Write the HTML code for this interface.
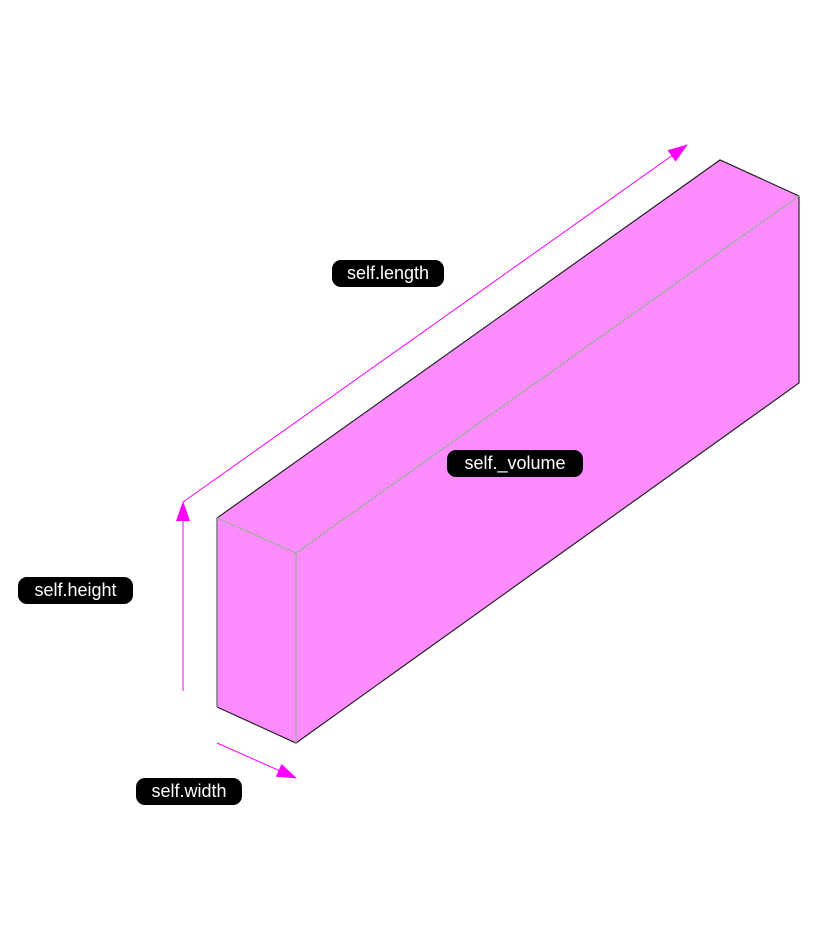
<!DOCTYPE html>
<html><head><style>
body{margin:0;background:#fff;width:820px;height:946px;overflow:hidden}
.l{position:absolute;background:#000;color:#fff;font:18px "Liberation Sans",sans-serif;border-radius:9px;height:27px;line-height:27px;text-align:center}
</style></head><body>
<svg width="820" height="946" style="position:absolute;left:0;top:0">
<defs><marker id="a" markerWidth="10" markerHeight="8" refX="9" refY="4" orient="auto" markerUnits="userSpaceOnUse" viewBox="0 0 10 8"><path d="M0,0L10,4L0,8z" fill="#f0f"/></marker>
<marker id="b" markerWidth="20" markerHeight="14" refX="19" refY="7" orient="auto" markerUnits="userSpaceOnUse" viewBox="0 0 20 14"><path d="M0,0L20,7L0,14z" fill="#f0f"/></marker></defs>
<polygon points="217,518 720,160 799,196 799,383 296,743 217,707" fill="#ff8cff"/>
<polyline points="217,707 217,518 720,160 799,196 799,383 296,743 217,707" fill="none" stroke="#222" stroke-width="1.2"/>
<polyline points="217,518 296,553 799,196" fill="none" stroke="#aaa" stroke-width="1.5"/>
<line x1="296" y1="553" x2="296" y2="743" stroke="#aaa" stroke-width="1.5"/>
<line x1="217" y1="518" x2="217" y2="707" stroke="#888" stroke-width="1.5"/>
<line x1="183" y1="691" x2="183" y2="502" stroke="#f0f" stroke-width="1" marker-end="url(#b)"/>
<line x1="183" y1="502" x2="687" y2="145" stroke="#f0f" stroke-width="1" marker-end="url(#b)"/>
<line x1="217" y1="743" x2="296" y2="778" stroke="#f0f" stroke-width="1" marker-end="url(#b)"/>
</svg>
<div class="l" style="left:332px;top:260px;width:112px">self.length</div>
<div class="l" style="left:447px;top:450px;width:136px">self._volume</div>
<div class="l" style="left:18px;top:577px;width:115px">self.height</div>
<div class="l" style="left:136px;top:778px;width:106px">self.width</div>
</body></html>
